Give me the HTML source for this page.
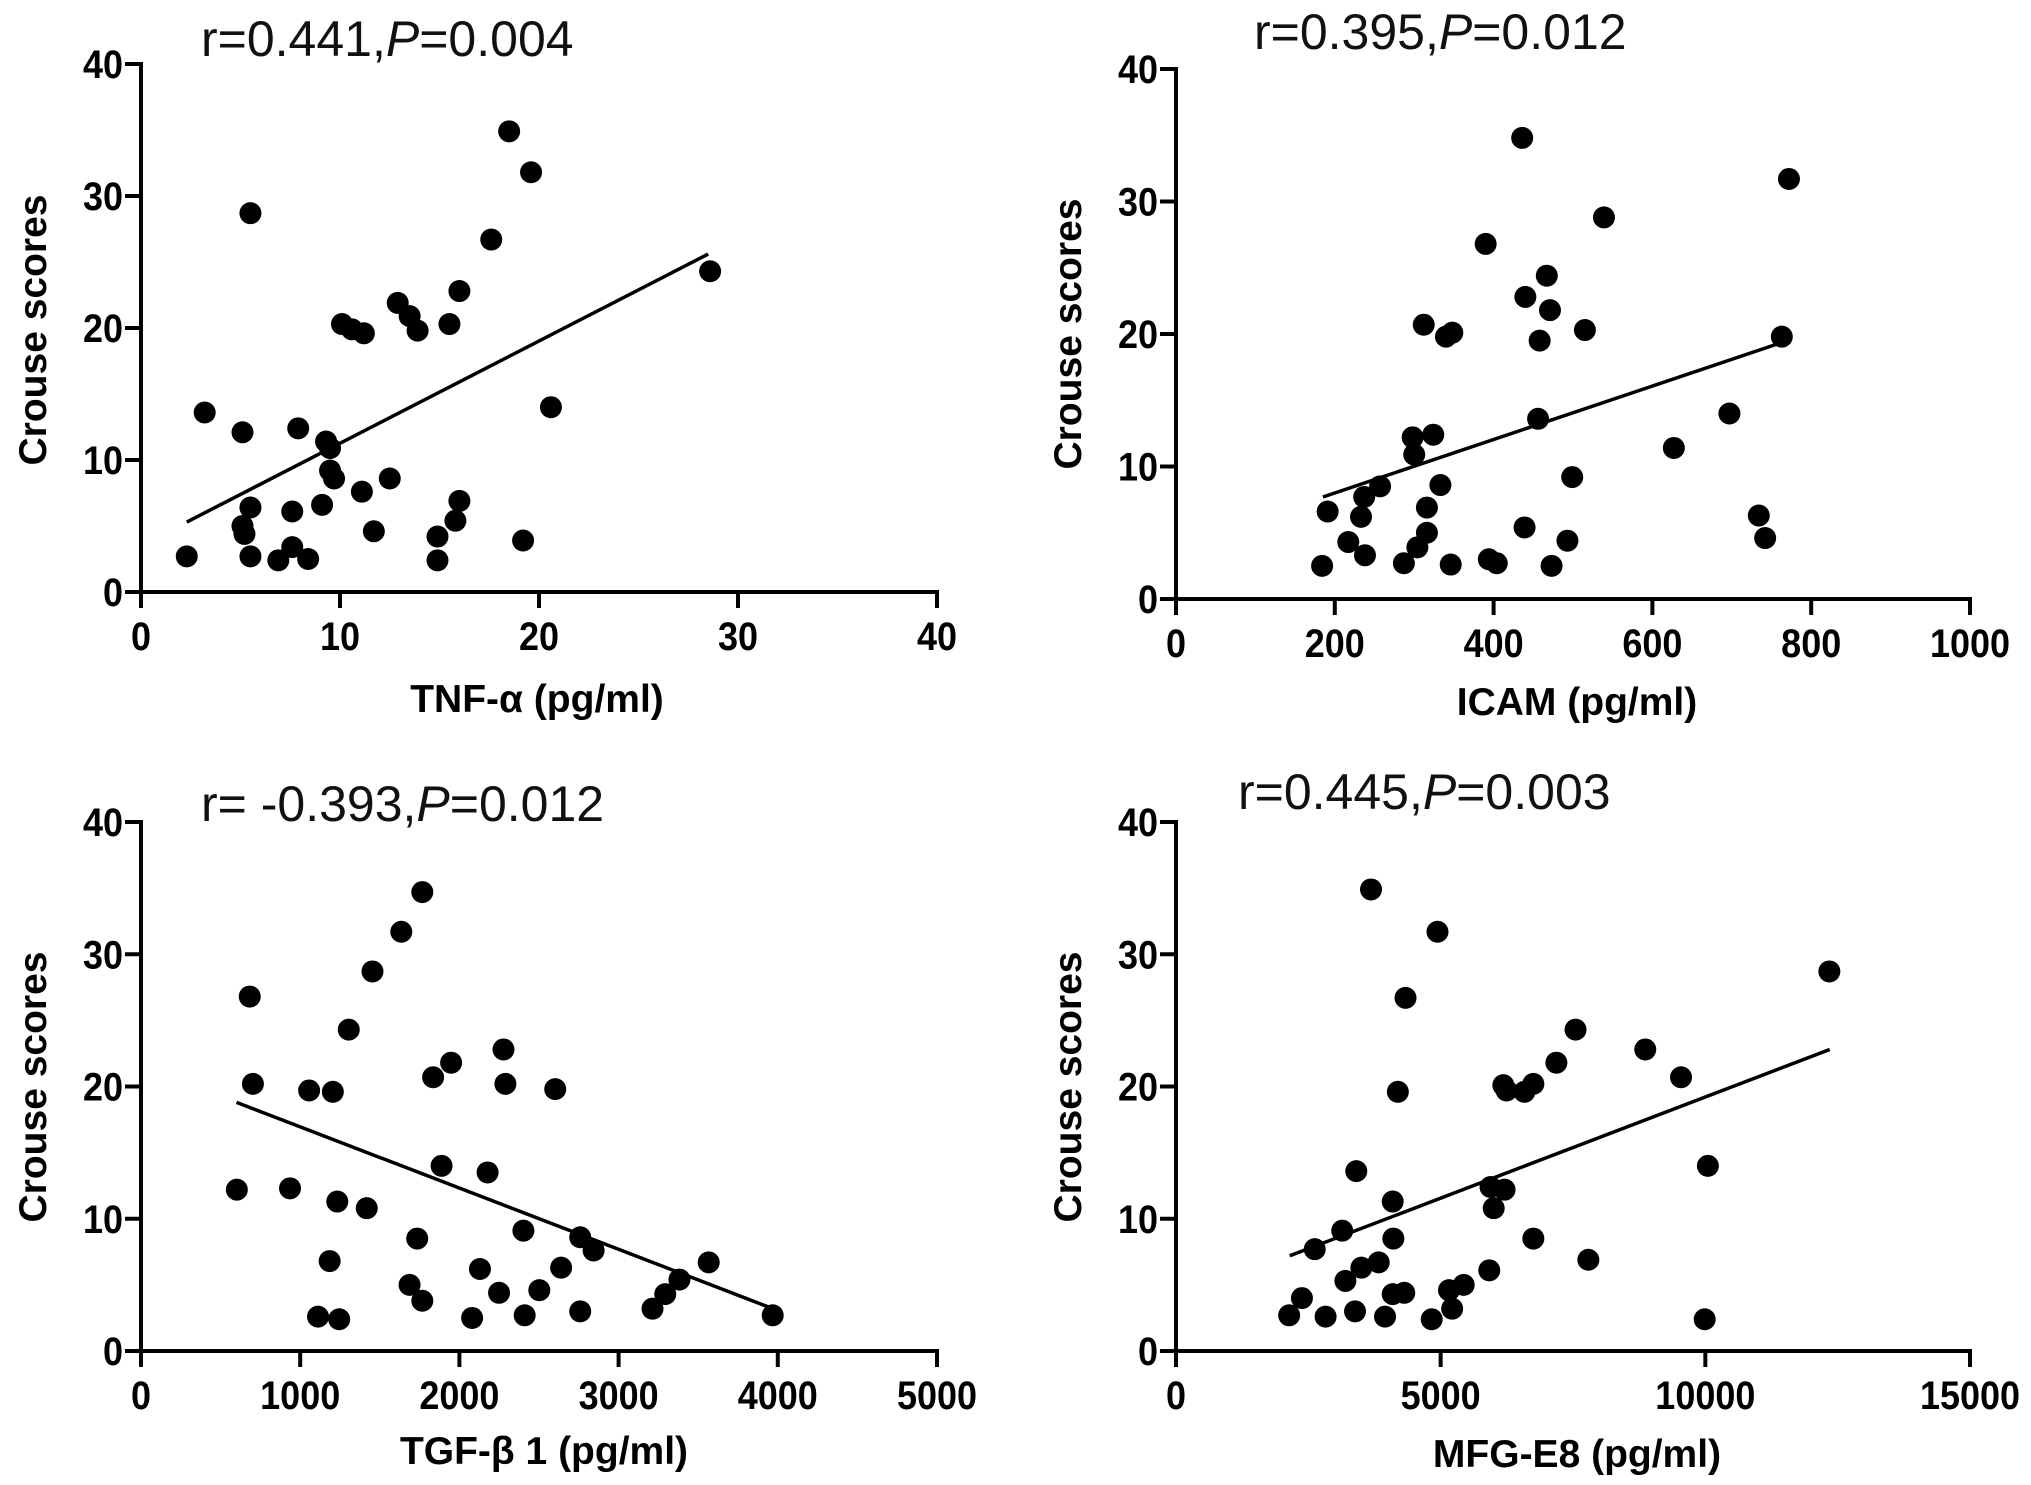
<!DOCTYPE html>
<html><head><meta charset="utf-8"><style>
html,body{margin:0;padding:0;background:#fff;}
svg{display:block;font-family:"Liberation Sans",Arial,sans-serif;}
.tick{font-weight:bold;font-size:36px;fill:#000;}
.axlab{font-weight:bold;font-size:39px;fill:#000;}
.title{font-size:50px;fill:#111;}
</style></head><body>
<svg id="fig" width="2031" height="1485" viewBox="0 0 2031 1485"></svg>
<script>
// Panel A: TNF-alpha
const tnfX = [2.3,3.2,5.1,5.1,5.2,5.5,5.5,5.5,6.9,7.6,7.6,8.4,7.9,9.3,9.5,9.5,9.7,9.1,10.1,10.6,11.2,11.1,11.7,12.5,12.9,13.5,13.9,14.9,14.9,15.5,16.0,16.0,15.8,17.6,18.5,19.6,19.2,20.6,28.6];
const tnfY = [2.7,13.6,12.1,5.0,4.4,6.4,2.7,28.7,2.4,6.1,3.4,2.5,12.4,11.4,10.9,9.2,8.6,6.6,20.3,19.9,19.6,7.6,4.6,8.6,21.9,20.9,19.8,2.4,4.2,20.3,22.8,6.9,5.4,26.7,34.9,31.8,3.9,14.0,24.3];
const tnfFitX = [2.3,28.5];
const tnfFitY = [5.3,25.6];
const tnfTicks = [0,10,20,30,40];
// Panel B: ICAM
const icamX = [184,191,217,233,237,238,257,287,298,300,304,312,316,316,324,333,340,348,346,390,394,404,436,439,440,458,456,467,471,473,493,499,515,539,627,697,734,742,763,772];
const icamY = [2.5,6.6,4.3,6.2,7.7,3.3,8.5,2.7,12.2,10.9,3.9,20.7,6.9,5.0,12.4,8.6,19.8,20.1,2.6,26.8,3.0,2.7,34.8,5.4,22.8,19.5,13.6,24.4,21.8,2.5,4.4,9.2,20.3,28.8,11.4,14.0,6.3,4.6,19.8,31.7];
const icamFitX = [185,770];
const icamFitY = [7.7,19.5];
const icamTicks = [0,200,400,600,800,1000];
// Panel C: TGF-beta1
const tgfX = [602,683,703,936,1056,1112,1185,1205,1233,1245,1305,1418,1454,1635,1687,1735,1767,1767,1835,1888,1948,2080,2129,2177,2249,2277,2289,2402,2410,2502,2602,2639,2759,2759,2843,3213,3293,3382,3566,3968];
const tgfY = [12.2,26.8,20.2,12.3,19.7,2.6,6.8,19.6,11.3,2.4,24.3,10.8,28.7,31.7,5.0,8.5,3.8,34.7,20.7,14.0,21.8,2.5,6.2,13.5,4.4,22.8,20.2,9.1,2.7,4.6,19.8,6.3,8.6,3.0,7.6,3.2,4.3,5.4,6.7,2.7];
const tgfFitX = [600,3970];
const tgfFitY = [18.8,3.2];
const tgfTicks = [0,1000,2000,3000,4000,5000];
// Panel D: MFG-E8
const mfgX = [2138,2379,2621,2826,3140,3200,3382,3406,3502,3684,3829,3949,4094,4094,4106,4191,4312,4336,4831,4940,5157,5217,5435,5918,5942,6002,6208,6184,6244,6582,6751,6751,7186,7548,7790,8865,9541,9988,10048,12343];
const mfgY = [2.7,4.0,7.7,2.6,9.1,5.3,3.0,13.6,6.3,34.9,6.7,2.6,11.3,4.3,8.5,19.6,4.4,26.7,2.4,31.7,4.6,3.2,5.0,6.1,12.4,10.8,12.2,20.1,19.7,19.6,20.2,8.5,21.8,24.3,6.9,22.8,20.7,2.4,14.0,28.7];
const mfgFitX = [2150,12350];
const mfgFitY = [7.2,22.8];
const mfgTicks = [0,5000,10000,15000];
const yTicks = [0,10,20,30,40];

const NS = "http://www.w3.org/2000/svg";
const svg = document.getElementById('fig');
function mk(tag, attrs, parent){
  const e = document.createElementNS(NS, tag);
  for (const k in attrs) e.setAttribute(k, attrs[k]);
  (parent||svg).appendChild(e);
  return e;
}
function panel(id, box, xs, ys, fx, fy, xt, title, xlabel, pos){
  const g = mk('g', {});
  
  
  const xmax = xt[xt.length-1];
  const sx = v => box.x0 + (v/xmax)*(box.x1-box.x0);
  const sy = v => box.y0 - (v/40)*(box.y0-box.y1);
  const ya = mk('line', {x1:box.x0, y1:box.y0+2, x2:box.x0, y2:box.y1-2, stroke:'#000','stroke-width':4}, g);
  
  
  const xa = mk('line', {x1:box.x0-2, y1:box.y0, x2:box.x1+2, y2:box.y0, stroke:'#000','stroke-width':4}, g);
  
  
  yTicks.forEach(v => {
    const y = sy(v);
    mk('line', {x1:box.x0-16, y1:y, x2:box.x0, y2:y, stroke:'#000','stroke-width':4}, g);
    const t = mk('text', {x:0, y:0, 'text-anchor':'end', class:'tick', transform:`translate(${box.x0-18},${y+14}) scale(1,1.1)`}, g);
    t.textContent = v;
    
    
  });
  xt.forEach(v => {
    const x = sx(v);
    mk('line', {x1:x, y1:box.y0, x2:x, y2:box.y0+16, stroke:'#000','stroke-width':4}, g);
    const t = mk('text', {x:0, y:0, 'text-anchor':'middle', class:'tick', transform:`translate(${x},${box.y0+58}) scale(1,1.1)`}, g);
    t.textContent = v;
    
    
  });
  const fl = mk('line', {x1:sx(fx[0]), y1:sy(fy[0]), x2:sx(fx[1]), y2:sy(fy[1]), stroke:'#000','stroke-width':3.5}, g);
  
  
  xs.forEach((v,i) => {
    const c = mk('circle', {cx:sx(v), cy:sy(ys[i]), r:11, fill:'#000'}, g);
    
    
  });
  const tt = mk('text', {x:pos.tx, y:pos.ty, class:'title'}, g);
  
  
  const s1 = mk('tspan', {}, tt); s1.textContent = title[0];
  const s2 = mk('tspan', {'font-style':'italic'}, tt); s2.textContent = 'P';
  const s3 = mk('tspan', {}, tt); s3.textContent = title[1];
  const yl = mk('text', {x:0, y:0, class:'axlab', 'text-anchor':'middle', transform:`translate(${pos.ylx},${pos.yly}) rotate(-90)`}, g);
  yl.textContent = 'Crouse scores';
  
  
  const xl = mk('text', {x:pos.xlx, y:pos.xly, class:'axlab', 'text-anchor':'middle'}, g);
  xl.textContent = xlabel;
  
  
}
panel('tnf', {x0:141,x1:937,y0:592,y1:64}, tnfX, tnfY, tnfFitX, tnfFitY, tnfTicks,
  ['r=0.441,','=0.004'], 'TNF-α (pg/ml)', {tx:201,ty:56,ylx:46,yly:330,xlx:537,xly:712});
panel('icam', {x0:1176,x1:1970,y0:599,y1:69}, icamX, icamY, icamFitX, icamFitY, icamTicks,
  ['r=0.395,','=0.012'], 'ICAM (pg/ml)', {tx:1254,ty:49,ylx:1081,yly:334,xlx:1577,xly:715});
panel('tgf', {x0:141,x1:937,y0:1351,y1:822}, tgfX, tgfY, tgfFitX, tgfFitY, tgfTicks,
  ['r= -0.393,','=0.012'], 'TGF-β 1 (pg/ml)', {tx:201,ty:821,ylx:46,yly:1087,xlx:544,xly:1464});
panel('mfg', {x0:1176,x1:1970,y0:1351,y1:822}, mfgX, mfgY, mfgFitX, mfgFitY, mfgTicks,
  ['r=0.445,','=0.003'], 'MFG-E8 (pg/ml)', {tx:1238,ty:809,ylx:1081,yly:1087,xlx:1577,xly:1467});
</script>
</body></html>
